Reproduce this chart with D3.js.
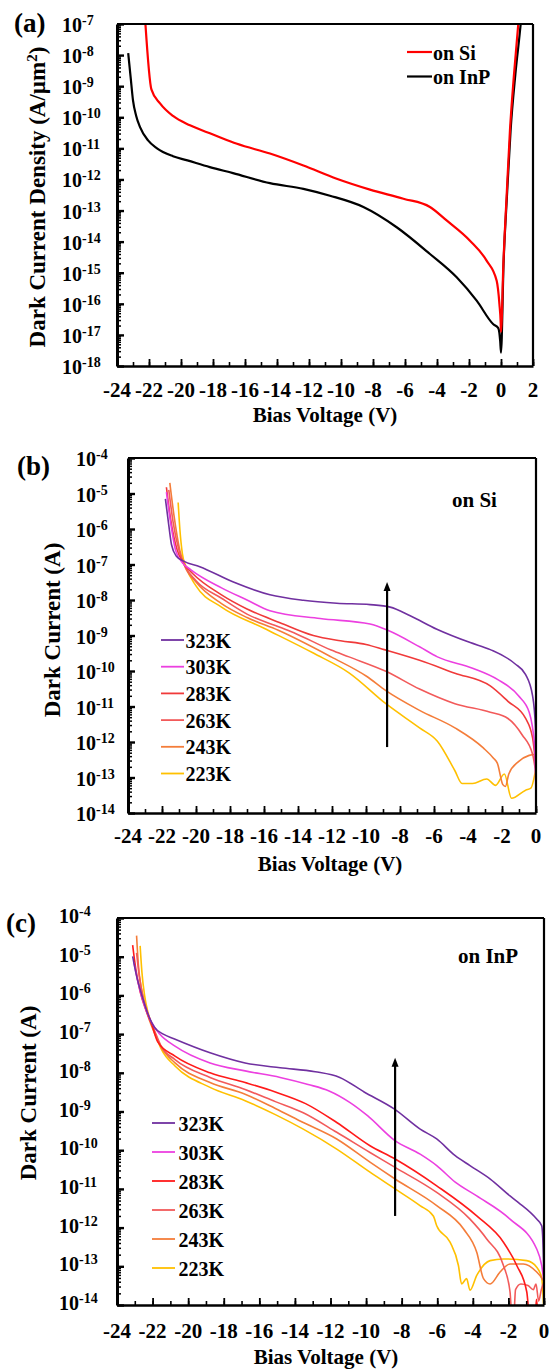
<!DOCTYPE html>
<html><head><meta charset="utf-8">
<script src="https://cdn.jsdelivr.net/npm/d3@7"></script>
<style>
body{margin:0;background:#fff}
svg{display:block}
text{font-family:"Liberation Serif","Times New Roman",serif;font-weight:bold;fill:#000}
</style>
</head><body>
<svg id="chart" width="549" height="1371"></svg>
<script>
// ---------------- DATA ----------------
// Panel (a): dark current density (A/um^2) vs bias voltage (V)
const aOnSi = [[-22.25,1.6e-7],[-21.85,7.9e-10],[-21.31,2.8e-10],[-20.5,1.1e-10],[-19.44,5.5e-11],[-18.0,2.8e-11],
  [-16.5,1.4e-11],[-14.44,6.8e-12],[-12.35,2.8e-12],[-10.27,1.05e-12],[-8.19,4.7e-13],[-6.1,2.4e-13],[-4.44,1.3e-13],
  [-3.4,4.8e-14],[-1.94,1.07e-14],[-0.9,2.45e-15],[-0.27,5.5e-16],[-0.1,1e-16],[-0.02,2.5e-17],[0.0,1.26e-17],
  [0.15,2.0e-15],[0.35,2.8e-13],[0.56,3.8e-11],[0.8,2.0e-9],[1.08,1e-7],[1.15,2.5e-7]];
const aOnInP = [[-23.3,1.15e-8],[-23.15,2.0e-9],[-23.0,3.5e-10],[-22.8,1.1e-10],[-22.56,4.8e-11],[-22.06,1.8e-11],
  [-21.5,1e-11],[-20.5,5.6e-12],[-19.6,4.1e-12],[-18.2,2.5e-12],[-16.75,1.6e-12],[-14.44,7.6e-13],[-12.35,5.0e-13],
  [-10.69,3.0e-13],[-8.6,1.3e-13],[-6.52,2.9e-14],[-4.44,4.0e-15],[-2.77,7.1e-16],[-1.52,1.26e-16],[-0.48,2.2e-17],
  [-0.17,1.66e-17],[-0.05,6.3e-18],[0.0,2.7e-18],[0.16,2.0e-15],[0.37,2.8e-13],[0.6,3.8e-11],[0.9,2.5e-9],
  [1.23,1e-7],[1.3,2.5e-7]];

// Panel (b): dark current (A) on Si at different temperatures
const b323 = [[-21.8,7.1e-6],[-21.6,1.26e-6],[-21.44,3.6e-7],[-21.15,1.7e-7],[-20.76,1.26e-7],[-19.78,8.7e-8],
  [-17.8,3.2e-8],[-15.65,1.4e-8],[-13.69,9.8e-9],[-11.72,8.1e-9],[-9.76,7.4e-9],[-8.58,6.3e-9],[-7.4,3.6e-9],
  [-5.83,1.5e-9],[-3.87,6.3e-10],[-2.69,4.0e-10],[-1.24,1.6e-10],[-0.61,7.9e-11],[-0.2,2.0e-11],[-0.03,2.5e-12],[0,3.2e-14]];
const b303 = [[-21.74,1.1e-5],[-21.5,1.6e-6],[-21.2,2.5e-7],[-20.8,1.12e-7],[-20.3,7.1e-8],[-18.5,2.2e-8],
  [-17.0,1.0e-8],[-15.65,5.0e-9],[-12.7,3.0e-9],[-9.76,2.1e-9],[-8.72,1.4e-9],[-6.85,4.8e-10],[-5.8,2.5e-10],
  [-3.73,1.2e-10],[-2.27,5.8e-11],[-1.03,2.0e-11],[-0.4,6.9e-12],[-0.09,8.5e-13],[0,3.2e-14]];
const b283 = [[-21.74,1.5e-5],[-21.5,2.0e-6],[-21.1,2.5e-7],[-20.76,1.12e-7],[-20.2,5.6e-8],[-18.5,1.4e-8],
  [-17.0,5.6e-9],[-15.06,2.3e-9],[-13.1,1.0e-9],[-11.5,7.1e-10],[-10.0,5.6e-10],[-8.93,4.0e-10],[-6.85,2.0e-10],
  [-4.77,8.7e-11],[-2.69,3.8e-11],[-1.65,1.4e-11],[-0.61,4.6e-12],[-0.2,1.3e-12],[0,1.9e-13]];
const b263 = [[-21.6,1.26e-5],[-21.35,1.6e-6],[-21.0,2.5e-7],[-20.7,1.0e-7],[-20.0,3.5e-8],[-18.5,1.12e-8],
  [-17.0,4.0e-9],[-15.06,1.7e-9],[-14.12,1.12e-9],[-12.05,3.9e-10],[-11.0,2.5e-10],[-8.83,9.8e-11],[-6.85,3.1e-11],
  [-4.77,1.2e-11],[-2.69,6.9e-12],[-1.65,4.6e-12],[-0.82,1.6e-12],[-0.2,4.5e-13],[0,1.26e-13]];
const b243 = [[-21.54,2.0e-5],[-21.3,2.5e-6],[-20.95,2.5e-7],[-20.7,1.0e-7],[-20.0,3.2e-8],[-18.5,7.9e-9],
  [-17.0,3.2e-9],[-15.16,1.4e-9],[-12.05,2.5e-10],[-9.97,7.1e-11],[-8.83,2.8e-11],[-6.85,7.8e-12],[-4.77,2.5e-12],
  [-3.1,6.8e-13],[-2.5,3.5e-13],[-2.27,2.5e-13],[-1.95,6.3e-14],[-1.8,5.6e-14],[-1.6,1.26e-13],[-1.03,2.8e-13],
  [-0.4,4.2e-13],[0,4.5e-13]];
const b223 = [[-21.05,5.6e-6],[-20.95,1.0e-6],[-20.8,2.0e-7],[-20.6,8.9e-8],[-20.0,2.5e-8],[-18.5,6.3e-9],
  [-16.0,1.6e-9],[-13.1,3.2e-10],[-11.0,8.9e-11],[-8.83,1.2e-11],[-6.85,2.5e-12],[-5.8,1.05e-12],[-4.77,1.55e-13],
  [-4.35,6.8e-14],[-3.73,6.8e-14],[-2.9,9.1e-14],[-2.38,6.0e-14],[-1.86,1.26e-13],[-1.44,2.6e-14],[-0.61,4.4e-14],
  [-0.3,5.0e-14],[0,1.9e-13]];

// Panel (c): dark current (A) on InP at different temperatures
const c323 = [[-23.12,1.02e-5],[-22.9,3.2e-6],[-22.6,1.0e-6],[-22.2,2.8e-7],[-21.9,1.5e-7],[-21.4,1.0e-7],
  [-20.8,7.6e-8],[-18.77,3.3e-8],[-16.8,1.8e-8],[-14.83,1.35e-8],[-12.86,1.07e-8],[-11.48,7.6e-9],[-10.11,3.2e-9],
  [-8.4,1.15e-9],[-6.96,3.5e-10],[-6.03,1.95e-10],[-4.99,7.2e-11],[-4.16,4.0e-11],[-3.02,1.8e-11],[-1.91,6.6e-12],
  [-1.45,4.5e-12],[-0.41,1.66e-12],[-0.13,1.12e-12],[-0.03,1.6e-13],[0,4.0e-14]];
const c303 = [[-23.05,7.1e-6],[-22.8,2.0e-6],[-22.5,6.3e-7],[-22.1,2.2e-7],[-21.6,1.0e-7],[-20.74,4.9e-8],
  [-18.77,1.8e-8],[-16.8,1.12e-8],[-14.83,7.6e-9],[-13.26,5.0e-9],[-12.08,3.4e-9],[-10.9,1.7e-9],[-9.92,7.8e-10],
  [-8.4,1.8e-10],[-6.96,7.9e-11],[-6.03,4.0e-11],[-4.99,1.5e-11],[-3.78,6.6e-12],[-1.91,1.66e-12],[-0.41,2.8e-13],
  [-0.13,1.05e-13],[0,4.0e-14]];
const c283 = [[-23.12,2.0e-5],[-22.95,5.0e-6],[-22.7,1.26e-6],[-22.4,4.5e-7],[-22.05,1.8e-7],[-21.71,6.3e-8],
  [-20.74,2.7e-8],[-18.77,1.0e-8],[-16.8,5.6e-9],[-15.1,3.2e-9],[-13.4,1.6e-9],[-11.65,5.2e-10],[-9.78,1.3e-10],
  [-8.37,5.9e-11],[-6.03,1.2e-11],[-3.78,2.0e-12],[-2.28,4.2e-13],[-1.53,1.05e-13],[-0.97,2.2e-14],[-0.8,5.0e-15],
  [-0.5,5.0e-15],[-0.42,1.4e-14],[-0.34,5.0e-15]];
const c263 = [[-22.9,1.26e-5],[-22.75,3.2e-6],[-22.5,7.9e-7],[-22.2,2.8e-7],[-21.9,1.26e-7],[-21.52,4.9e-8],
  [-20.74,2.2e-8],[-18.77,7.6e-9],[-16.8,3.7e-9],[-15.1,1.8e-9],[-13.53,9.3e-10],[-11.65,2.9e-10],[-9.78,8.7e-11],
  [-8.37,3.6e-11],[-6.03,8.1e-12],[-4.16,1.66e-12],[-3.22,5.1e-13],[-2.28,1.05e-13],[-1.91,2.2e-14],[-1.8,5.0e-15],
  [-1.7,5.0e-15],[-1.6,2.5e-14],[-1.3,3.5e-14],[-0.9,3.2e-14],[-0.6,2.5e-14],[-0.45,3.5e-14],[-0.3,1.26e-14],
  [-0.15,2.5e-14],[0,4.0e-14]];
const c243 = [[-22.9,3.5e-5],[-22.8,6.3e-6],[-22.6,1.26e-6],[-22.35,4.0e-7],[-22.05,1.6e-7],[-21.5,4.5e-8],
  [-20.74,1.8e-8],[-18.77,5.6e-9],[-16.8,2.8e-9],[-15.1,1.2e-9],[-13.53,5.2e-10],[-11.65,1.95e-10],[-9.78,4.9e-11],
  [-8.37,1.8e-11],[-6.03,3.7e-12],[-4.53,9.3e-13],[-3.78,2.3e-13],[-3.4,4.8e-14],[-3.03,3.5e-14],[-2.47,7.1e-14],
  [-1.91,1.15e-13],[-1.16,1.15e-13],[-0.41,7.1e-14],[-0.13,5.0e-14],[0,4.0e-14]];
const c223 = [[-22.7,1.9e-5],[-22.6,4.0e-6],[-22.45,1.0e-6],[-22.25,3.5e-7],[-22.0,1.6e-7],[-21.5,4.0e-8],
  [-20.74,1.5e-8],[-18.77,4.2e-9],[-16.8,1.9e-9],[-15.1,8.3e-10],[-13.53,3.5e-10],[-11.65,1.07e-10],[-9.78,2.7e-11],
  [-8.37,1.0e-11],[-6.97,3.7e-12],[-6.22,2.0e-12],[-6.03,1.12e-12],[-5.28,4.2e-13],[-4.81,1.05e-13],[-4.63,3.5e-14],
  [-4.35,4.8e-14],[-4.16,2.4e-14],[-3.78,5.8e-14],[-3.03,1.4e-13],[-2.28,1.55e-13],[-0.97,1.4e-13],[-0.41,9.5e-14],
  [-0.13,5.0e-14],[0,6.3e-15]];

// Tick labels
const aXTicks = [-24,-22,-20,-18,-16,-14,-12,-10,-8,-6,-4,-2,0,2];
const bcXTicks = [-24,-22,-20,-18,-16,-14,-12,-10,-8,-6,-4,-2,0];
const aYExp = [-18,-17,-16,-15,-14,-13,-12,-11,-10,-9,-8,-7];
const bcYExp = [-14,-13,-12,-11,-10,-9,-8,-7,-6,-5,-4];

// Legends
const aLabels = ["on Si","on InP"];
const aColors = ["#ff0000","#000000"];
const tempLabels = ["323K","303K","283K","263K","243K","223K"];
const tempColorsB = ["#7030a0","#ec40e0","#f03a3a","#f25a5a","#f47d3a","#ffc000"];
const tempColorsC = ["#7030a0","#ec40e0","#ff1a1a","#f25a5a","#f47d3a","#ffc000"];

// ---------------- DRAWING ----------------
const svg = d3.select("#chart");

function supLabel(sel, x, y, base, sup, size, supSize, anchor) {
  const t = sel.append("text").attr("x", x).attr("y", y).attr("font-size", size);
  if (anchor) t.attr("text-anchor", anchor);
  t.append("tspan").text(base);
  t.append("tspan").attr("dy", -7).attr("font-size", supSize).text(sup);
  return t;
}

function drawPanel(p) {
  const g = svg.append("g");
  const x = d3.scaleLinear().domain(p.xDomain).range([p.left, p.right]);
  const y = d3.scaleLog().domain(p.yDomain).range([p.bottom, p.top]);
  const cid = "clip-" + p.name;
  svg.append("clipPath").attr("id", cid).append("rect")
    .attr("x", p.left).attr("y", p.top).attr("width", p.right - p.left).attr("height", p.bottom - p.top);

  // curves
  const line = d3.line().x(d => x(d[0])).y(d => y(d[1])).curve(d3.curveMonotoneX);
  const cg = g.append("g").attr("clip-path", `url(#${cid})`);
  p.series.slice().reverse().forEach(s => {
    cg.append("path").datum(s.data).attr("d", line).attr("fill", "none")
      .attr("stroke", s.color).attr("stroke-width", p.lw).attr("stroke-linejoin", "round");
  });

  // x axis ticks (inward)
  const xMinor = d3.range(p.xDomain[0], p.xDomain[1] + 0.5, 1);
  const xa1 = g.append("g").attr("transform", `translate(0,${p.bottom})`)
    .call(d3.axisBottom(x).tickValues(xMinor).tickSize(-4).tickSizeOuter(0).tickFormat(""));
  xa1.select(".domain").remove();
  xa1.selectAll("line").attr("stroke-width", 1.6);
  const xa2 = g.append("g").attr("transform", `translate(0,${p.bottom})`)
    .call(d3.axisBottom(x).tickValues(p.xTicks).tickSize(-7).tickSizeOuter(0).tickFormat(""));
  xa2.select(".domain").attr("stroke-width", 2.6);
  xa2.selectAll("line").attr("stroke-width", 1.8);

  // y axis ticks (inward): minor log ticks + decades
  const e0 = Math.round(Math.log10(p.yDomain[0])), e1 = Math.round(Math.log10(p.yDomain[1]));
  const yMinor = [];
  for (let e = e0; e < e1; e++) for (let m = 2; m <= 9; m++) yMinor.push(m * Math.pow(10, e));
  const ya1 = g.append("g").attr("transform", `translate(${p.left},0)`)
    .call(d3.axisLeft(y).tickValues(yMinor).tickSize(-4).tickSizeOuter(0).tickFormat(""));
  ya1.select(".domain").remove();
  ya1.selectAll("line").attr("stroke-width", 1.5);
  const decades = p.yExp.map(e => Math.pow(10, e));
  const ya2 = g.append("g").attr("transform", `translate(${p.left},0)`)
    .call(d3.axisLeft(y).tickValues(decades).tickSize(-7).tickSizeOuter(0).tickFormat(""));
  ya2.select(".domain").attr("stroke-width", 3);
  ya2.selectAll("line").attr("stroke-width", 2.4);

  // frame top & right
  g.append("line").attr("x1", p.left).attr("x2", p.right).attr("y1", p.top).attr("y2", p.top)
    .attr("stroke", "#000").attr("stroke-width", 2.2);
  g.append("line").attr("x1", p.right).attr("x2", p.right).attr("y1", p.top).attr("y2", p.bottom)
    .attr("stroke", "#000").attr("stroke-width", 2.2);

  // y tick labels
  p.yExp.forEach(e => {
    supLabel(g, p.yLabelX, y(Math.pow(10, e)) + p.yLabelDy, "10", "-" + (-e), 20, 14);
  });
  // x tick labels
  p.xTicks.forEach(v => {
    g.append("text").attr("x", x(v)).attr("y", p.xLabelY).attr("text-anchor", "middle")
      .attr("font-size", p.xTickSize).text(v);
  });
  // x title
  g.append("text").attr("x", p.xTitleX).attr("y", p.xTitleY).attr("text-anchor", "middle")
    .attr("font-size", 21).text("Bias Voltage (V)");
  // y title
  const yt = g.append("text").attr("transform", `translate(${p.yTitleX},${p.yTitleY}) rotate(-90)`)
    .attr("text-anchor", "middle").attr("font-size", 23);
  yt.append("tspan").text(p.yTitle);
  if (p.yTitleSup) {
    yt.append("tspan").attr("dy", -8).attr("font-size", 15).text(p.yTitleSup);
    yt.append("tspan").attr("dy", 8).text(p.yTitleEnd);
  }
  // panel label
  g.append("text").attr("x", p.tagX).attr("y", p.tagY).attr("font-size", 27).text(p.tag);

  return {g, x, y};
}

// Panel (a)
const A = drawPanel({
  name: "a", left: 117, right: 533, top: 24, bottom: 366,
  xDomain: [-24, 2], yDomain: [1e-18, 1e-7], xTicks: aXTicks, yExp: aYExp,
  series: [{data: aOnSi, color: aColors[0]}, {data: aOnInP, color: aColors[1]}], lw: 2.2,
  yLabelX: 62, yLabelDy: 8, xTickSize: 21, xLabelY: 397, xTitleX: 325, xTitleY: 422,
  yTitle: "Dark Current Density (A/µm", yTitleSup: "2", yTitleEnd: ")", yTitleX: 45, yTitleY: 197,
  tag: "(a)", tagX: 14, tagY: 32
});
aLabels.forEach((lab, i) => {
  const yy = 52 + i * 24.5;
  A.g.append("line").attr("x1", 407).attr("x2", 432).attr("y1", yy).attr("y2", yy)
    .attr("stroke", aColors[i]).attr("stroke-width", 2.2);
  A.g.append("text").attr("x", 433).attr("y", yy + 7.5).attr("font-size", 20).text(lab);
});

// Panel (b)
const B = drawPanel({
  name: "b", left: 128, right: 536, top: 458, bottom: 813,
  xDomain: [-24, 0], yDomain: [1e-14, 1e-4], xTicks: bcXTicks, yExp: bcYExp,
  series: [b323, b303, b283, b263, b243, b223].map((d, i) => ({data: d, color: tempColorsB[i]})), lw: 1.6,
  yLabelX: 76, yLabelDy: 8, xTickSize: 21, xLabelY: 843, xTitleX: 330, xTitleY: 871,
  yTitle: "Dark Current (A)", yTitleX: 60, yTitleY: 630,
  tag: "(b)", tagX: 17, tagY: 475
});
tempLabels.forEach((lab, i) => {
  const yy = 640 + i * 26.7;
  B.g.append("line").attr("x1", 161).attr("x2", 184).attr("y1", yy).attr("y2", yy)
    .attr("stroke", tempColorsB[i]).attr("stroke-width", 1.8);
  B.g.append("text").attr("x", 185.5).attr("y", yy + 7.5).attr("font-size", 20).text(lab);
});
B.g.append("text").attr("x", 452).attr("y", 507).attr("font-size", 21).text("on Si");

// Panel (c)
const C = drawPanel({
  name: "c", left: 117, right: 544, top: 918, bottom: 1305,
  xDomain: [-24, 0], yDomain: [1e-14, 1e-4], xTicks: bcXTicks, yExp: bcYExp,
  series: [c323, c303, c283, c263, c243, c223].map((d, i) => ({data: d, color: tempColorsC[i]})), lw: 1.6,
  yLabelX: 59, yLabelDy: 5, xTickSize: 21, xLabelY: 1338, xTitleX: 326, xTitleY: 1364,
  yTitle: "Dark Current (A)", yTitleX: 36, yTitleY: 1093,
  tag: "(c)", tagX: 6, tagY: 932
});
tempLabels.forEach((lab, i) => {
  const yy = 1123 + i * 29;
  C.g.append("line").attr("x1", 152).attr("x2", 175).attr("y1", yy).attr("y2", yy)
    .attr("stroke", tempColorsC[i]).attr("stroke-width", 1.8);
  C.g.append("text").attr("x", 178.5).attr("y", yy + 7.5).attr("font-size", 20).text(lab);
});
C.g.append("text").attr("x", 458).attr("y", 963).attr("font-size", 21).text("on InP");

// Arrows (increasing temperature), in data coordinates
const bArrow = {v: -8.76, from: 7.2e-13, to: 3.2e-8};
const cArrow = {v: -8.37, from: 2.0e-12, to: 2.45e-8};
function arrow(P, a) {
  const xx = P.x(a.v), y0 = P.y(a.from), y1 = P.y(a.to);
  P.g.append("line").attr("x1", xx).attr("x2", xx).attr("y1", y0).attr("y2", y1 + 6)
    .attr("stroke", "#000").attr("stroke-width", 2.2);
  P.g.append("path").attr("d", `M${xx},${y1} L${xx - 3.5},${y1 + 9} L${xx + 3.5},${y1 + 9} Z`).attr("fill", "#000");
}
arrow(B, bArrow);
arrow(C, cArrow);
</script>
</body></html>
